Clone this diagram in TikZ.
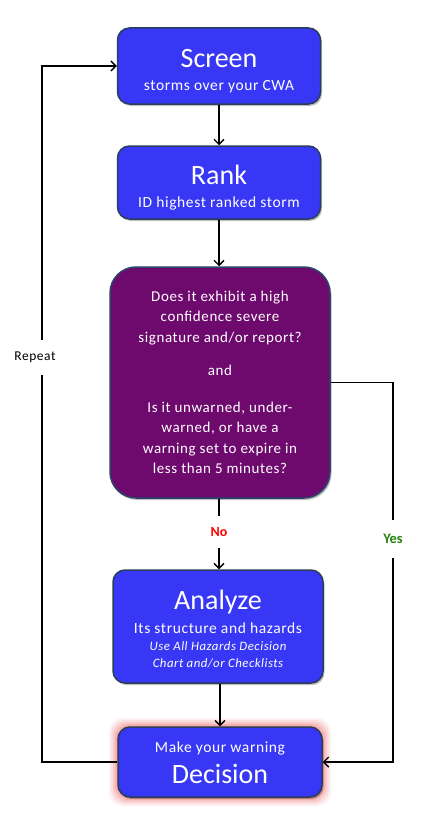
\documentclass[tikz,border=0pt]{standalone}
\usepackage{fontspec}
\setmainfont{Carlito}
\newfontfamily\spc[LetterSpace=4]{Carlito}
\usetikzlibrary{arrows.meta,positioning}
\definecolor{boxblue}{RGB}{55,55,245}
\definecolor{boxedge}{RGB}{40,62,90}
\definecolor{boxpurple}{RGB}{110,10,110}
\definecolor{purpedge}{RGB}{40,70,105}
\definecolor{yesgreen}{RGB}{40,130,20}
\definecolor{glow}{RGB}{245,140,140}
\tikzset{
  bluebox/.style={draw=boxedge, line width=1.5pt, fill=boxblue, rounded corners=12pt, text=white, align=center, inner sep=0pt},
  purplebox/.style={draw=purpedge, line width=1.5pt, fill=boxpurple, rounded corners=26pt, text=white, align=center, inner sep=0pt},
  flow/.style={line width=1.6pt, -{Straight Barb[length=5pt,width=10pt,line width=1.4pt]}},
  plain/.style={line width=1.6pt},
  shadowed/.style={preaction={fill=black, fill opacity=0.25, transform canvas={xshift=1.5pt,yshift=-2pt}}},
  lbl/.style={inner sep=0pt}
}
\newcommand{\ttlfont}{\fontsize{28}{30}\selectfont}
\newcommand{\subfont}{\spc\fontsize{15.5}{23}\selectfont}
\newcommand{\itfont}{\spc\itshape\fontsize{12.8}{17}\selectfont}
\begin{document}
\begin{tikzpicture}[x=1pt,y=-1pt]
\useasboundingbox[fill=white] (0,0) rectangle (429,816);

% glow behind the Decision box
\foreach \g/\o in {9/0.12,7/0.18,5/0.25,3/0.35,1.5/0.5}{
  \fill[glow, opacity=\o, rounded corners=14pt] (118-\g,727-\g) rectangle (322+\g,797+\g);
}

\node[bluebox, shadowed, minimum width=203pt, minimum height=76pt, font=\fontsize{15.5}{23}\selectfont] (screen) at (219,66)
  {\rule{0pt}{28pt}\ttlfont Screen\\\subfont storms over your CWA};
\node[bluebox, shadowed, minimum width=203pt, minimum height=73pt, font=\fontsize{15.5}{23}\selectfont] (rank) at (219,182.5)
  {\rule{0pt}{29pt}\ttlfont Rank\\\subfont ID highest ranked storm};
\node[purplebox, shadowed, minimum width=220pt, minimum height=231pt, font=\spc\fontsize{15}{20.5}\selectfont] (dec) at (220,382.5)
  {Does it exhibit a high\\ confidence severe\\ signature and/or report?\\[12.5pt]
   and\\[16.5pt] Is it unwarned, under-\\ warned, or have a\\ warning set to expire in\\ less than 5 minutes?};
\node[bluebox, shadowed, minimum width=210pt, minimum height=113pt, font=\fontsize{12}{17}\selectfont] (analyze) at (218,626.5)
  {\rule{0pt}{25.5pt}\ttlfont Analyze\\[7pt]\subfont Its structure and hazards\\
   \itfont Use All Hazards Decision\\ \itfont Chart and/or Checklists};
\node[bluebox, shadowed, minimum width=204pt, minimum height=70pt, font=\fontsize{15.5}{23}\selectfont] (decision) at (220,762)
  {\rule{0pt}{13pt}\subfont Make your warning\\[8pt]\ttlfont Decision};

% labels
\node[lbl, text=red, font=\bfseries\fontsize{14}{16}\selectfont, minimum height=32pt] (no) at (219,532) {No};
\node[lbl, text=yesgreen, font=\bfseries\fontsize{14.5}{16}\selectfont, minimum height=38pt] (yes) at (393,539) {Yes};
\node[lbl, font=\spc\fontsize{13.5}{15}\selectfont] (repeat) at (35,357) {Repeat};
\coordinate (rtop) at (42,340);
\coordinate (rbot) at (42,375);

% connectors
\draw[flow] (screen) -- (rank);
\draw[flow] (rank) -- (rank.south |- dec.north);
\draw[plain] (dec.south -| no) -- (no.north);
\draw[flow] (no.south) -- (no.south |- analyze.north);
\draw[flow] (analyze.south -| decision) -- (decision.north);
\draw[plain] (dec.east) -| (yes.north);
\draw[flow] (yes.south) |- (decision.east);
\draw[plain] (decision.west) -| (rbot);
\draw[flow] (rtop) |- (screen.west);
\end{tikzpicture}
\end{document}
